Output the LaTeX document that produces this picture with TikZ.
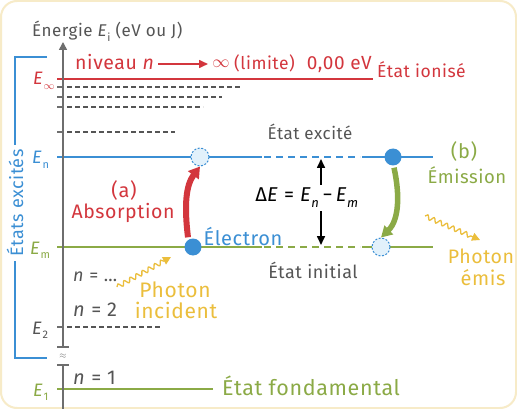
\documentclass[tikz,border=0pt]{standalone}
\usepackage{fontspec}
\setmainfont[LetterSpace=3]{Fira Sans}
\usetikzlibrary{arrows.meta,decorations.pathmorphing}
\definecolor{cred}{HTML}{D3363D}
\definecolor{cblue}{HTML}{3B8FD4}
\definecolor{cgreen}{HTML}{8BAA46}
\definecolor{cyel}{HTML}{EBBE3C}
\definecolor{cgray}{HTML}{555555}
\definecolor{caxis}{HTML}{6E6E6E}
\definecolor{clight}{HTML}{E2F1FB}
\definecolor{cframe}{HTML}{F7EBC8}
\newcommand{\Elab}[1]{\textit{E}\kern0.02em\raisebox{-0.5ex}{\fontsize{11}{11}\selectfont #1}}
\begin{document}
\begin{tikzpicture}[x=1pt,y=-1pt,
  lbl/.style={inner sep=0pt},
  fs/.style={font=\fontsize{#1}{#1}\selectfont},
  elbl/.style={font=\fontsize{18}{20}\selectfont, inner sep=0pt, anchor=base west},
  dashlvl/.style={cgray, line width=1.6pt, dash pattern=on 5pt off 3pt},
  tick/.style={caxis, line width=1.6pt},
  lvl/.style={line width=1.8pt},
  dot/.style={circle, fill=cblue, minimum size=17pt, inner sep=0pt},
  ghost/.style={circle, draw=cblue, dash pattern=on 2pt off 1.6pt, line width=1pt, fill=clight, minimum size=18pt, inner sep=0pt},
  photon/.style={cyel, line width=1.3pt, -{Triangle[length=8pt,width=8pt]},
    decorate, decoration={snake, amplitude=2.2pt, segment length=7pt, post length=8pt}},
  dearrow/.style={black, line width=1.6pt, -{Triangle[length=9pt,width=8pt]}}
]
\useasboundingbox (0,0) rectangle (517,409);
\fill[white] (0,0) rectangle (517,409);
\draw[cframe, line width=2pt, rounded corners=16pt] (1,1) rectangle (516,408);

% ---- bracket "Etats excites"
\draw[cblue, line width=2pt] (47,57) -- (15,57) -- (15,358) -- (47,358);
\node[lbl, fs=18, cblue, rotate=90, fill=white, inner xsep=4pt, inner ysep=2pt] (exc) at (15,203) {États excités};

% ---- levels
\draw[cred, lvl] (57,79) -- (373,79);
\foreach \yy/\xe in {87/242, 97/222, 107/203, 132/175}{
  \draw[tick] (57,\yy) -- (64,\yy);
  \draw[dashlvl] (67,\yy) -- (\xe,\yy);
}
\draw[cblue, lvl] (57,157) -- (262,157);
\draw[cblue, lvl, dash pattern=on 7pt off 5pt] (264,157) -- (360,157);
\draw[cblue, lvl] (362,157) -- (433,157);
\draw[cgreen, lvl] (57,247) -- (262,247);
\draw[cgreen, lvl, dash pattern=on 7pt off 5pt] (264,247) -- (360,247);
\draw[cgreen, lvl] (362,247) -- (433,247);
\draw[tick] (57,327) -- (64,327);
\draw[dashlvl] (67,327) -- (160,327);
\draw[cgreen, lvl] (57,389) -- (213,389);

% ---- axis
\coordinate (axB) at (63,409);
\coordinate (axB2) at (63,365);
\coordinate (axT2) at (63,347);
\coordinate (axT) at (63,42);
\draw[caxis, line width=1.6pt] (axB) -- (axB2);
\draw[caxis, line width=1.6pt, -{Triangle[length=8pt,width=8pt]}] (axT2) -- (axT);
\draw[tick] (57,365) -- (69,365);
\draw[tick] (57,347) -- (69,347);
\node[inner sep=0pt, caxis, font=\fontsize{9}{9}\selectfont] (brk) at (63,356) {$\approx$};

% ---- title
\node[lbl, fs=17, cgray, anchor=base west] (title) at (32,37) {Énergie \Elab{i} (eV ou J)};

% ---- level labels
\node[elbl, cred] (Einf) at (33,85) {\Elab{$\infty$}};
\node[elbl, cblue] (En) at (32,164) {\Elab{n}};
\node[elbl, cgreen] (Em) at (30,254) {\Elab{m}};
\node[elbl, cgray] (E2) at (32,334) {\Elab{2}};
\node[elbl, cgreen] (E1) at (33,396) {\Elab{1}};

% ---- limit level text
\node[lbl, fs=19.5, cred, anchor=base west] (niv) at (75,70) {niveau \textit{n}};
\coordinate (arA) at (158,64);
\coordinate (arB) at (208,64);
\draw[cred, line width=1.6pt, -{Triangle[length=9pt,width=8pt]}] (arA) -- (arB);
\node[lbl, cred, font=\fontsize{19}{19}\selectfont] (inf) at (221,64) {$\infty$};
\node[lbl, fs=17.5, cred, anchor=base west] (lim) at (234,70) {(limite)};
\node[lbl, fs=19, cred, anchor=base east] (zero) at (372,70) {0,00\hspace{0.3em}eV};
\node[lbl, fs=17.5, cred, anchor=base west] (ion) at (377,78) {État ionisé};

\node[lbl, fs=18, cgray, anchor=base west] (nd) at (73,281) {\textit{n} = …};
\node[lbl, fs=20, cgray, anchor=base west] (n2) at (73,316) {\textit{n} = 2};
\node[lbl, fs=20, cgray, anchor=base west] (n1) at (73,384) {\textit{n} = 1};
\node[lbl, fs=21.5, cgreen, anchor=base west] (fond) at (222,395) {État fondamental};

\node[lbl, fs=17, cgray] (exci) at (310,132) {État excité};
\node[lbl, fs=18, cgray] (init) at (313,270) {État initial};
\node[lbl, fs=20, cblue] (elec) at (243,237) {Électron};
\node[lbl, fs=20, cred] (a) at (124,190) {(a)};
\node[lbl, fs=19.5, cred] (abs) at (123,213) {Absorption};
\node[lbl, fs=20, cgreen] (b) at (464,152) {(b)};
\node[lbl, fs=18.5, cgreen] (emi) at (467,175) {Émission};
\node[lbl, fs=21, cyel] (ph1) at (175,290) {Photon};
\node[lbl, fs=21, cyel] (ph2) at (176,310) {incident};
\node[lbl, fs=19.5, cyel] (ph3) at (481,256) {Photon};
\node[lbl, fs=20, cyel] (ph4) at (483,278) {émis};

% ---- Delta E
\node[lbl, fs=20, black] (dE) at (307,198) {Δ\textit{E} = \textit{E}\raisebox{-0.55ex}{\fontsize{13}{13}\selectfont\textit{n}}\,−\,\textit{E}\raisebox{-0.55ex}{\fontsize{13}{13}\selectfont\textit{m}}};
\coordinate (dEu) at (321,185);
\coordinate (dEn) at (321,159);
\coordinate (dEd) at (321,211);
\coordinate (dEm) at (321,245);
\draw[dearrow] (dEu) -- (dEn);
\draw[dearrow] (dEd) -- (dEm);

% ---- electrons
\node[ghost] (ga) at (200,157) {};
\node[dot] (da) at (193,247) {};
\node[dot] (db) at (393,157) {};
\node[ghost] (gb) at (381,247) {};

% ---- transitions
\draw[cred, line width=6pt, -{Triangle[length=11pt,width=13pt]}]
  (da.north) ++(-5,-1) .. controls (184,205) and (186,185) .. (ga.south);
\draw[cgreen, line width=5.5pt, -{Triangle[length=11pt,width=12pt]}]
  (db.south) ++(1,2) .. controls (400,195) and (399,220) .. (gb.north);

% ---- photons
\coordinate (pi0) at (117,287);
\coordinate (pi1) at (171,257);
\coordinate (pe0) at (425,216);
\coordinate (pe1) at (480,240);
\draw[photon] (pi0) -- (pi1);
\draw[photon] (pe0) -- (pe1);
\end{tikzpicture}
\end{document}
